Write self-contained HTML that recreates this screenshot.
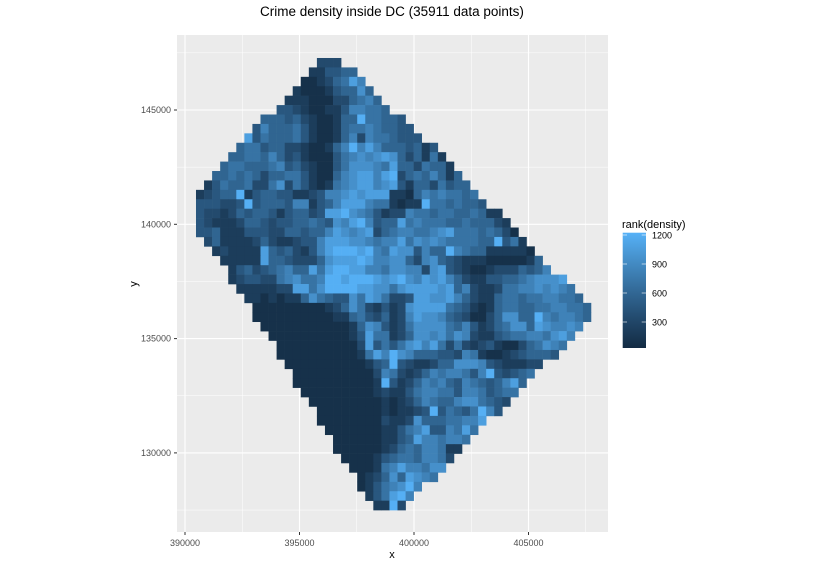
<!DOCTYPE html>
<html><head><meta charset="utf-8"><style>
body{margin:0;background:#fff;}
svg{display:block;font-family:"Liberation Sans",sans-serif;}
</style></head><body>
<svg id="chart" width="828" height="565" xmlns="http://www.w3.org/2000/svg">
<text x="392" y="16" text-anchor="middle" font-size="13.5" fill="#000">Crime density inside DC (35911 data points)</text>
<rect x="177" y="35" width="431" height="497" fill="#EBEBEB"/>
<g id="grid"></g>
<g id="cells"></g>
<g id="axes"></g>
<text x="392" y="558" text-anchor="middle" font-size="11" fill="#000">x</text>
<text x="137" y="284" text-anchor="middle" font-size="11" fill="#000" transform="rotate(-90 137 284)">y</text>
<g id="legend">
<text x="622" y="228" font-size="11" fill="#000">rank(density)</text>
</g>
</svg>
<script>
const xTicks = [390000, 395000, 400000, 405000];
const yTicks = [130000, 135000, 140000, 145000];
const legendTicks = [300, 600, 900, 1200];
const gridX0 = 390480, gridDX = 352, gridY0 = 147275, gridDY = 412;
const rowStart = [15,14,13,12,11,10,8,7,6,5,4,3,2,1,0,0,0,0,0,1,2,3,4,4,5,6,7,7,8,9,10,10,11,12,12,13,14,15,15,16,17,17,18,19,20,20,21,22];
const rowLevels = [
"222","113344","00124586","1000134474","111000224564","33210011366554",
"444342100144955443","36444531001455654433","8354445310014626554333",
"4553442210014696864443413","445546423100035676787424151",
"45544456342100357776584425441","4454542445531004678868924546414",
"135445225725310156788678314425344","12344913443311236678788811046565545",
"333223934443661346888655101195545443","32212434431344238897653122655455445411",
"321112443233445437689634485655544544421","3341113332244344687678245665567855545420",
"2411112421123368887765668576765555449351","1211118434213689998965877364496544111110",
"1111184432224788898667742674321110000014","1342345644858998866577662783210012224346",
"123322567556998999878976878642113344567778",
"111112288579999887757888878462112556676765",
"110101147543375875223887786421145545566554",
"000000000124752131278888543101455445566554",
"000000000011453241268776432002477449656654",
"0000000000014763125777754631245774876676",
"00000000001385512477675762113455665786",
"000000000028353578685252123100245765",
"00000000001586976444332651001234443",
"00000000001349321124477763211122",
"000000000026521246566536932345",
"00000000001931246564365434684",
"000000000121135665536653455",
"0000000001012465446775432",
"00000000101123935435963",
"000000002112744455668",
"0000000113568336585",
"00000011348665665",
"0000001245466511",
"00001345546652",
"000156866577",
"0124748765",
"01356796","135896","1192"];
const ns = "http://www.w3.org/2000/svg";
function xs(v){return 185 + (v-390000)*114.5/5000;}
function ys(v){return 110 - (v-145000)*114.3/5000;}
function levelToRank(l){return 60 + l*130;}
const lo=[19,43,67], hi=[86,177,247], rMin=1, rMax=1250;
function toLin(c){c/=255;return c<=0.04045?c/12.92:Math.pow((c+0.055)/1.055,2.4);}
function fromLin(c){c=c<=0.0031308?12.92*c:1.055*Math.pow(c,1/2.4)-0.055;return Math.round(Math.max(0,Math.min(1,c))*255);}
function rgb2lab(c){const [r,g,b]=c.map(toLin);
 let X=(0.4124*r+0.3576*g+0.1805*b)/0.95047,Y=0.2126*r+0.7152*g+0.0722*b,Z=(0.0193*r+0.1192*g+0.9505*b)/1.08883;
 const f=t=>t>0.008856?Math.cbrt(t):7.787*t+16/116;X=f(X);Y=f(Y);Z=f(Z);
 return [116*Y-16,500*(X-Y),200*(Y-Z)];}
function lab2rgb(l){let Y=(l[0]+16)/116,X=l[1]/500+Y,Z=Y-l[2]/200;
 const fi=t=>t*t*t>0.008856?t*t*t:(t-16/116)/7.787;X=fi(X)*0.95047;Y=fi(Y);Z=fi(Z)*1.08883;
 const r=3.2406*X-1.5372*Y-0.4986*Z,g=-0.9689*X+1.8758*Y+0.0415*Z,b=0.0557*X-0.2040*Y+1.0570*Z;
 return [fromLin(r),fromLin(g),fromLin(b)];}
const loLab=rgb2lab(lo), hiLab=rgb2lab(hi);
function col(rank){const t=Math.max(0,Math.min(1,(rank-rMin)/(rMax-rMin)));
 return 'rgb('+lab2rgb(loLab.map((a,i)=>a+(hiLab[i]-a)*t)).join(',')+')';}
function mk(tag,attrs,parent){const e=document.createElementNS(ns,tag);for(const k in attrs)e.setAttribute(k,attrs[k]);parent.appendChild(e);return e;}
const grid=document.getElementById('grid');
xTicks.forEach((v,i)=>{
 const l=mk('line',{x1:xs(v),x2:xs(v),y1:35,y2:532,stroke:'#fff','stroke-width':1.1},grid);
 
 
 const m=mk('line',{x1:xs(v+2500),x2:xs(v+2500),y1:35,y2:532,stroke:'#fff','stroke-width':0.5},grid);
 
 
});
yTicks.forEach(v=>{
 const l=mk('line',{x1:177,x2:608,y1:ys(v),y2:ys(v),stroke:'#fff','stroke-width':1.1},grid);
 
 
});
[127500,132500,137500,142500,147500].forEach(v=>{
 const m=mk('line',{x1:177,x2:608,y1:ys(v),y2:ys(v),stroke:'#fff','stroke-width':0.5},grid);
 
 
});
const cells=document.getElementById('cells');
rowLevels.forEach((s,r)=>{
 for(let i=0;i<s.length;i++){
  const c=rowStart[r]+i;
  const x1=xs(gridX0+c*gridDX), x2=xs(gridX0+(c+1)*gridDX);
  const y1=ys(gridY0-r*gridDY), y2=ys(gridY0-(r+1)*gridDY);
  const rect=mk('rect',{x:x1.toFixed(2),y:y1.toFixed(2),width:(x2-x1+0.3).toFixed(2),height:(y2-y1+0.3).toFixed(2),fill:col(levelToRank(+s[i]))},cells);
  
  
 }
});
const axes=document.getElementById('axes');
xTicks.forEach(v=>{
 const t=mk('line',{x1:xs(v),x2:xs(v),y1:532,y2:535,stroke:'#333'},axes);
 
 
 const tx=mk('text',{x:xs(v),y:546,'text-anchor':'middle','font-size':9,fill:'#4D4D4D'},axes);
 tx.textContent=v;
 
 
});
yTicks.forEach(v=>{
 const t=mk('line',{x1:174,x2:177,y1:ys(v),y2:ys(v),stroke:'#333'},axes);
 
 
 const tx=mk('text',{x:171,y:ys(v)+3,'text-anchor':'end','font-size':9,fill:'#4D4D4D'},axes);
 tx.textContent=v;
 
 
});
const lg=document.getElementById('legend');
function ly(v){return 322-(v-300)*87/900;}
const defs=mk('defs',{},lg);
const grad=mk('linearGradient',{id:'lgGrad',x1:0,y1:1,x2:0,y2:0},defs);
[0,0.25,0.5,0.75,1].forEach(f=>{mk('stop',{offset:f,'stop-color':col(rMin+f*(rMax-rMin))},grad);});
const bar=mk('rect',{x:622.7,y:232.7,width:23.3,height:115.3,fill:'url(#lgGrad)'},lg);


legendTicks.forEach(v=>{
 const a=mk('line',{x1:622.7,x2:627,y1:ly(v),y2:ly(v),stroke:'#fff','stroke-width':0.6},lg);
 
 
 const b=mk('line',{x1:641.7,x2:646,y1:ly(v),y2:ly(v),stroke:'#fff','stroke-width':0.6},lg);
 
 
 const t=mk('text',{x:652,y:ly(v)+3.5,'font-size':9,fill:'#000'},lg);
 t.textContent=v;
 
 
});
</script>
</body></html>
